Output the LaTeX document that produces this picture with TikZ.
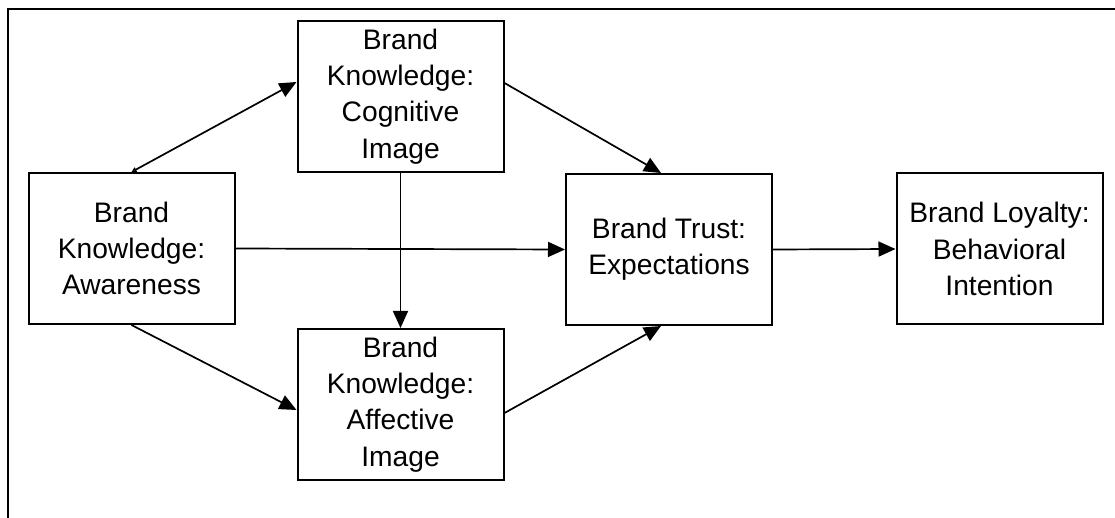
\documentclass[tikz,border=0pt]{standalone}
\usepackage{fontspec}
\setmainfont{Liberation Sans}
\usetikzlibrary{arrows.meta}
\begin{document}
\begin{tikzpicture}[x=0.5pt,y=-0.5pt,
  box/.style={draw=black,line width=1pt,minimum width=103pt,minimum height=75.5pt,inner sep=0pt,align=center,font=\fontsize{14.1}{18.2}\selectfont},
  conn/.style={line width=0.85pt,-{Triangle[length=8.5pt,width=7.5pt]}},
  frameline/.style={line width=1pt}]
\useasboundingbox (0,0) rectangle (1115,518);
\coordinate (fb) at (8,530);
\coordinate (ft) at (8,9);
\coordinate (fr) at (1125,9);
\draw[frameline] (fb) -- (ft) -- (fr);
\node[box] (aw) at (131.5,248.5) {Brand\\Knowledge:\\Awareness};
\node[box] (cog) at (400.5,96.5) {Brand\\Knowledge:\\Cognitive\\Image};
\node[box] (aff) at (400.5,404.5) {Brand\\Knowledge:\\Affective\\Image};
\node[box] (tr) at (669,249.5) {Brand Trust:\\Expectations};
\node[box] (loy) at (999.5,249) {Brand Loyalty:\\Behavioral\\Intention};
\draw[conn,{Triangle[open,length=2.5pt,width=2.5pt]}-{Triangle[length=8.5pt,width=7.5pt]}] (aw.north) -- ([yshift=7.25pt]cog.west);
\draw[conn] (cog.south) -- (aff.north);
\draw[conn] (aw.east) -- (tr.west);
\draw[conn] (aw.south) -- ([yshift=-2.75pt]aff.west);
\draw[conn] ([yshift=6.75pt]cog.east) -- ([xshift=-4pt]tr.north);
\draw[conn] ([yshift=-4.25pt]aff.east) -- ([xshift=-4pt]tr.south);
\draw[conn] (tr.east) -- (loy.west);
\end{tikzpicture}
\end{document}
